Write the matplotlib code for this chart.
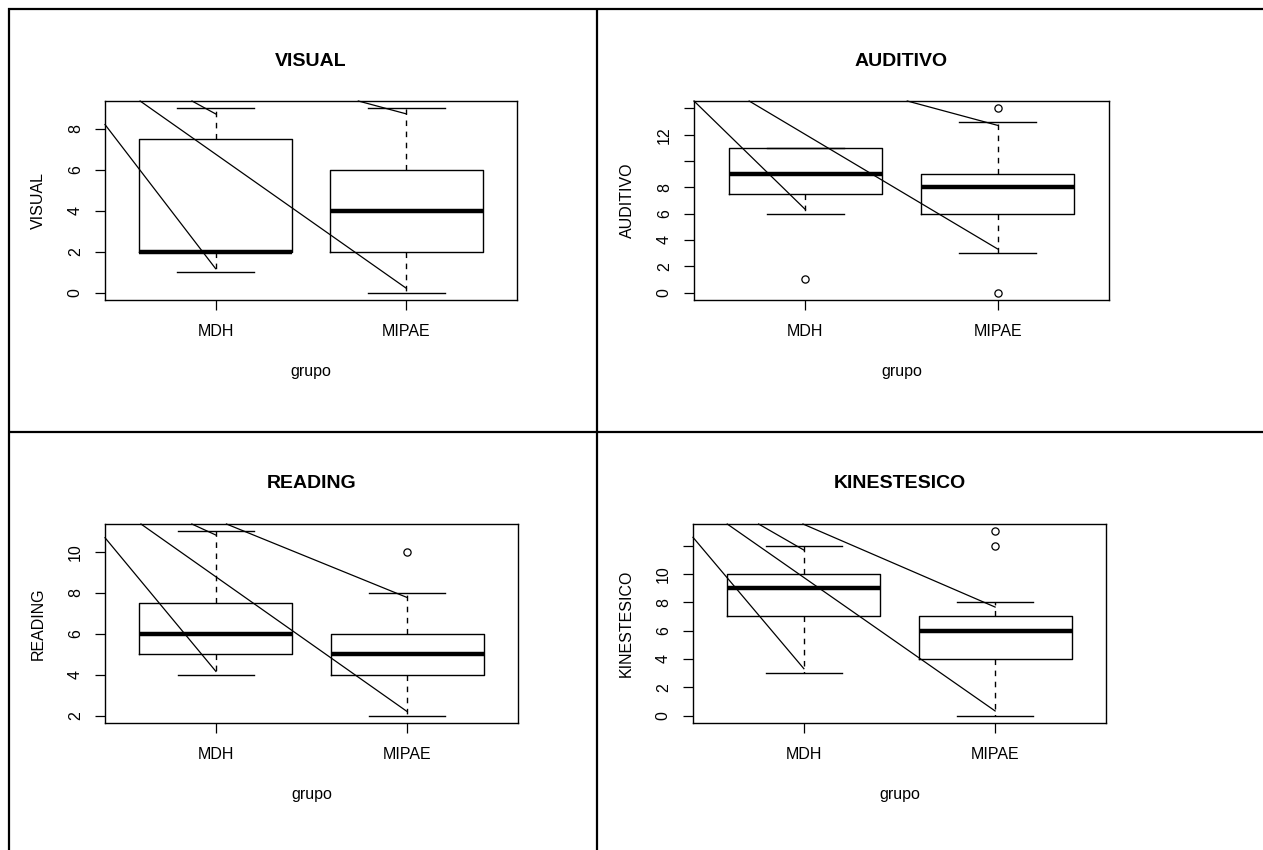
import matplotlib
matplotlib.use("Agg")
import matplotlib.pyplot as plt
from matplotlib.lines import Line2D

plt.rcParams['font.family'] = ['Liberation Sans', 'DejaVu Sans']

groups = ["MDH", "MIPAE"]
titles = ["VISUAL", "AUDITIVO", "READING", "KINESTESICO"]

# five-number summaries per panel: [whislo, q1, med, q3, whishi] for MDH, MIPAE
visual_stats = [[1, 2, 2, 7.5, 9], [0, 2, 4, 6, 9]]
auditivo_stats = [[6, 7.5, 9, 11, 11], [3, 6, 8, 9, 13]]
reading_stats = [[4, 5, 6, 7.5, 11], [2, 4, 5, 6, 8]]
kinestesico_stats = [[3, 7, 9, 10, 12], [0, 4, 6, 7, 8]]

visual_out = [[], []]
auditivo_out = [[1], [14, 0]]
reading_out = [[], [10]]
kinestesico_out = [[], [12, 13]]

visual_ticks = [0, 2, 4, 6, 8]
visual_labels = ["0", "2", "4", "6", "8"]
auditivo_ticks = [0, 2, 4, 6, 8, 10, 12, 14]
auditivo_labels = ["0", "2", "4", "6", "8", "", "12", ""]
reading_ticks = [2, 4, 6, 8, 10]
reading_labels = ["2", "4", "6", "8", "10"]
kinestesico_ticks = [0, 2, 4, 6, 8, 10, 12]
kinestesico_labels = ["0", "2", "4", "6", "8", "10", ""]

# stray diagonal strokes: (x0, y0) -> (x1, y1) in data units (None = top edge)
visual_strokes = [(0.42, 8.21, 1, 1.17), (0.604, None, 2, 0.21),
                  (0.876, None, 1, 8.73), (1.748, None, 2, 8.73)]
auditivo_strokes = [(0.42, None, 1, 6.31), (0.707, None, 2, 3.32),
                    (1.53, None, 2, 12.71)]
reading_strokes = [(0.42, 10.69, 1, 4.16), (0.608, None, 2, 2.2),
                   (0.874, None, 1, 10.82), (1.055, None, 2, 7.77)]
kinestesico_strokes = [(0.42, 12.58, 1, 3.31), (0.599, None, 2, 0.33),
                       (0.763, None, 1, 11.68), (0.995, None, 2, 7.66)]

panels = [
    (titles[0], visual_stats, visual_out, visual_ticks, visual_labels, visual_strokes),
    (titles[1], auditivo_stats, auditivo_out, auditivo_ticks, auditivo_labels, auditivo_strokes),
    (titles[2], reading_stats, reading_out, reading_ticks, reading_labels, reading_strokes),
    (titles[3], kinestesico_stats, kinestesico_out, kinestesico_ticks, kinestesico_labels, kinestesico_strokes),
]

W, H = 1263, 850
fig = plt.figure(figsize=(W / 100, H / 100), dpi=100)
fig.patch.set_facecolor("white")

# axes rectangles in pixels: left, right, top, bottom
rects_px = [(105, 517, 101, 300), (694, 1109, 101, 300),
            (105, 518, 524, 723), (693, 1106, 524, 723)]

PX = 0.72  # points per pixel

for (title, stats, outs, ticks, labels, strokes), (l, r, t, b) in zip(panels, rects_px):
    ax = fig.add_axes([l / W, 1 - b / H, (r - l) / W, (b - t) / H])
    bstats = []
    for s, o, g in zip(stats, outs, groups):
        bstats.append(dict(whislo=s[0], q1=s[1], med=s[2], q3=s[3], whishi=s[4],
                           fliers=o, label=g))
    ax.bxp(bstats, positions=[1, 2], widths=0.8, capwidths=0.4,
           boxprops=dict(color="black", lw=1.0),
           whiskerprops=dict(color="black", lw=1.0, linestyle=(0, (4, 4))),
           capprops=dict(color="black", lw=1.0),
           medianprops=dict(color="black", lw=3.2, solid_capstyle="butt"),
           flierprops=dict(marker="o", markerfacecolor="none", markeredgecolor="black",
                           markersize=5.2, markeredgewidth=0.9, linestyle="none"))
    allv = [v for s in stats for v in s] + [v for o in outs for v in o]
    lo, hi = min(allv), max(allv)
    pad = 0.04 * (hi - lo)
    ylo, yhi = lo - pad, hi + pad
    ax.set_ylim(ylo, yhi)
    ax.set_xlim(0.42, 2.58)
    for x0, y0, x1, y1 in strokes:
        ax.plot([x0, x1], [yhi if y0 is None else y0, y1], color="black", lw=0.9,
                clip_on=False)
    ax.set_yticks(ticks)
    ax.set_yticklabels(labels)
    ax.set_xticks([1, 2])
    ax.set_xticklabels(groups)
    ax.tick_params(axis="both", direction="out", length=7, width=0.9,
                   labelsize=11.5, colors="black")
    ax.tick_params(axis="x", pad=10)
    ax.tick_params(axis="y", pad=9)
    for lab in ax.get_yticklabels():
        lab.set_rotation(90)
        lab.set_va("center")
        lab.set_ha("right")
    for sp in ax.spines.values():
        sp.set_linewidth(1.0)
        sp.set_color("black")
    ax.annotate(title, xy=(0.5, 1), xycoords="axes fraction",
                xytext=(0, 40 * PX), textcoords="offset points",
                ha="center", va="center", fontsize=14, fontweight="bold")
    ax.annotate("grupo", xy=(0.5, 0), xycoords="axes fraction",
                xytext=(0, -71 * PX), textcoords="offset points",
                ha="center", va="center", fontsize=11.5)
    ax.annotate(title, xy=(0, 0.5), xycoords="axes fraction",
                xytext=(-67 * PX, 0), textcoords="offset points",
                ha="center", va="center", rotation=90, fontsize=11.5)

# table grid lines (pixel coordinates)
def px_line(x0, y0, x1, y1):
    fig.add_artist(Line2D([x0 / W, x1 / W], [1 - y0 / H, 1 - y1 / H],
                          transform=fig.transFigure, color="black", lw=1.6,
                          solid_capstyle="butt"))

px_line(7.5, 9, 1263, 9)
px_line(8.5, 8, 8.5, 850)
px_line(597, 8, 597, 850)
px_line(8, 431.5, 1263, 431.5)

fig.savefig("out.png", dpi=100)
